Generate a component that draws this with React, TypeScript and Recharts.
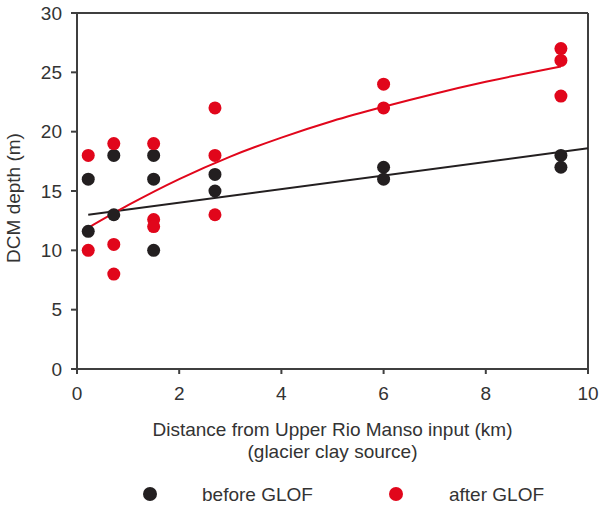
import { ComposedChart, Scatter, Line, XAxis, YAxis, ReferenceLine } from "recharts";

// DCM depth (m) vs distance from Upper Rio Manso input (km)
const beforeGlof = [
  { x: 0.22, y: 16 },
  { x: 0.22, y: 11.6 },
  { x: 0.72, y: 18 },
  { x: 0.72, y: 13 },
  { x: 1.5, y: 18 },
  { x: 1.5, y: 16 },
  { x: 1.5, y: 10 },
  { x: 2.7, y: 16.4 },
  { x: 2.7, y: 15 },
  { x: 6.0, y: 17 },
  { x: 6.0, y: 16 },
  { x: 9.47, y: 18 },
  { x: 9.47, y: 17 },
];

const afterGlof = [
  { x: 0.22, y: 18 },
  { x: 0.22, y: 10 },
  { x: 0.72, y: 19 },
  { x: 0.72, y: 10.5 },
  { x: 0.72, y: 8 },
  { x: 1.5, y: 19 },
  { x: 1.5, y: 12.6 },
  { x: 1.5, y: 12 },
  { x: 2.7, y: 22 },
  { x: 2.7, y: 18 },
  { x: 2.7, y: 13 },
  { x: 6.0, y: 24 },
  { x: 6.0, y: 22 },
  { x: 9.47, y: 27 },
  { x: 9.47, y: 26 },
  { x: 9.47, y: 23 },
];

// trend lines
const beforeFit = [
  { x: 0.22, y: 13.0 },
  { x: 10, y: 18.6 },
];

const afterFit = [
  { x: 0.22, y: 11.9 },
  { x: 1, y: 13.8 },
  { x: 2, y: 16.0 },
  { x: 3, y: 17.9 },
  { x: 4, y: 19.5 },
  { x: 5, y: 20.9 },
  { x: 6, y: 22.1 },
  { x: 7, y: 23.2 },
  { x: 8, y: 24.2 },
  { x: 9, y: 25.1 },
  { x: 9.47, y: 25.5 },
];

const xTicks = [0, 2, 4, 6, 8, 10];
const yTicks = [0, 5, 10, 15, 20, 25, 30];

const BLACK = "#231f20";
const RED = "#e1061b";
const AXIS = "#3f3f3f";
const TEXT = "#333333";
const FONT = "'Liberation Sans', Arial, sans-serif";

const legendItems = [
  { name: "before GLOF", color: BLACK, dotX: 150, textX: 202 },
  { name: "after GLOF", color: RED, dotX: 396, textX: 449 },
];

const dot = (color: string) => (p: any) => (
  <circle cx={p.cx} cy={p.cy} r={6.5} fill={color} />
);

function XTitle(props: any) {
  const { x, y, width } = props.viewBox;
  const cx = x + width / 2;
  return (
    <g fontFamily={FONT} fill={TEXT} fontSize={19}>
      <text x={cx} y={y + 67} textAnchor="middle">
        Distance from Upper Rio Manso input (km)
      </text>
      <text x={cx} y={y + 89} textAnchor="middle">
        (glacier clay source)
      </text>
      {legendItems.map((item) => (
        <g key={item.name}>
          <circle cx={item.dotX} cy={494} r={7} fill={item.color} />
          <text x={item.textX} y={501}>
            {item.name}
          </text>
        </g>
      ))}
    </g>
  );
}

function YTitle(props: any) {
  const { y, height } = props.viewBox;
  const cy = y + height / 2 + 7;
  return (
    <text
      x={20}
      y={cy}
      transform={`rotate(-90 20 ${cy})`}
      textAnchor="middle"
      fontFamily={FONT}
      fontSize={19}
      fill={TEXT}
    >
      DCM depth (m)
    </text>
  );
}

export default function App() {
  const tickStyle = { fill: TEXT, fontSize: 19, fontFamily: FONT };
  return (
    <div style={{ position: "absolute", left: 0, top: 0, background: "#fff" }}>
      <ComposedChart
        width={599}
        height={507}
        margin={{ top: 13, right: 11, left: 0, bottom: 0 }}
      >
        <XAxis
          type="number"
          dataKey="x"
          domain={[0, 10]}
          ticks={xTicks}
          tickSize={5}
          tickMargin={13}
          height={138}
          stroke={AXIS}
          strokeWidth={2}
          tick={tickStyle}
          allowDuplicatedCategory={false}
          label={{ content: XTitle }}
        />
        <YAxis
          type="number"
          dataKey="y"
          domain={[0, 30]}
          ticks={yTicks}
          tickSize={6}
          tickMargin={9}
          width={77}
          stroke={AXIS}
          strokeWidth={2}
          tick={tickStyle}
          label={{ content: YTitle }}
        />
        <ReferenceLine y={30} stroke={AXIS} strokeWidth={2} />
        <ReferenceLine x={10} stroke={AXIS} strokeWidth={2} />
        <Scatter
          name="before GLOF"
          data={beforeGlof}
          shape={dot(BLACK)}
          isAnimationActive={false}
        />
        <Scatter
          name="after GLOF"
          data={afterGlof}
          shape={dot(RED)}
          isAnimationActive={false}
        />
        <Line
          data={beforeFit}
          dataKey="y"
          type="linear"
          stroke={BLACK}
          strokeWidth={2}
          dot={false}
          activeDot={false}
          isAnimationActive={false}
        />
        <Line
          data={afterFit}
          dataKey="y"
          type="monotone"
          stroke={RED}
          strokeWidth={2}
          dot={false}
          activeDot={false}
          isAnimationActive={false}
        />
      </ComposedChart>
    </div>
  );
}
